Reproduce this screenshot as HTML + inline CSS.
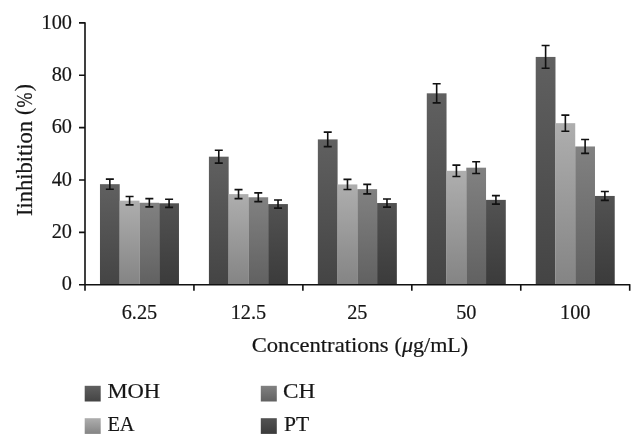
<!DOCTYPE html>
<html><head><meta charset="utf-8"><title>chart</title>
<style>html,body{margin:0;padding:0;background:#fff}svg{display:block;filter:grayscale(1)}text{font-family:"Liberation Serif",serif;fill:#161616;stroke:#161616;stroke-width:0.2px}</style></head><body>
<svg width="644" height="447" viewBox="0 0 644 447">
<defs>
<linearGradient id="g0" x1="0" y1="0" x2="0" y2="1"><stop offset="0" stop-color="#606060"/><stop offset="1" stop-color="#444444"/></linearGradient>
<linearGradient id="g1" x1="0" y1="0" x2="0" y2="1"><stop offset="0" stop-color="#aeaeae"/><stop offset="1" stop-color="#848484"/></linearGradient>
<linearGradient id="g2" x1="0" y1="0" x2="0" y2="1"><stop offset="0" stop-color="#818181"/><stop offset="1" stop-color="#616161"/></linearGradient>
<linearGradient id="g3" x1="0" y1="0" x2="0" y2="1"><stop offset="0" stop-color="#525252"/><stop offset="1" stop-color="#3b3b3b"/></linearGradient>
</defs>
<rect width="644" height="447" fill="#fff"/>
<rect x="99.97" y="184.17" width="19.75" height="100.53" fill="url(#g0)"/>
<rect x="119.72" y="200.66" width="19.75" height="84.04" fill="url(#g1)"/>
<rect x="139.47" y="202.76" width="19.75" height="81.94" fill="url(#g2)"/>
<rect x="159.22" y="203.28" width="19.75" height="81.42" fill="url(#g3)"/>
<rect x="208.91" y="156.68" width="19.75" height="128.02" fill="url(#g0)"/>
<rect x="228.66" y="194.12" width="19.75" height="90.58" fill="url(#g1)"/>
<rect x="248.41" y="197.26" width="19.75" height="87.44" fill="url(#g2)"/>
<rect x="268.16" y="204.07" width="19.75" height="80.63" fill="url(#g3)"/>
<rect x="317.85" y="139.40" width="19.75" height="145.30" fill="url(#g0)"/>
<rect x="337.60" y="184.43" width="19.75" height="100.27" fill="url(#g1)"/>
<rect x="357.35" y="189.14" width="19.75" height="95.56" fill="url(#g2)"/>
<rect x="377.10" y="203.02" width="19.75" height="81.68" fill="url(#g3)"/>
<rect x="426.79" y="93.32" width="19.75" height="191.38" fill="url(#g0)"/>
<rect x="446.54" y="170.82" width="19.75" height="113.88" fill="url(#g1)"/>
<rect x="466.29" y="167.68" width="19.75" height="117.02" fill="url(#g2)"/>
<rect x="486.04" y="199.88" width="19.75" height="84.82" fill="url(#g3)"/>
<rect x="535.73" y="56.93" width="19.75" height="227.77" fill="url(#g0)"/>
<rect x="555.48" y="123.17" width="19.75" height="161.53" fill="url(#g1)"/>
<rect x="575.23" y="146.47" width="19.75" height="138.23" fill="url(#g2)"/>
<rect x="594.98" y="195.95" width="19.75" height="88.75" fill="url(#g3)"/>
<path d="M109.84 179.14V189.20M105.84 179.14h8M105.84 189.20h8M129.59 196.46V204.86M125.59 196.46h8M125.59 204.86h8M149.34 198.66V206.85M145.34 198.66h8M145.34 206.85h8M169.09 199.21V207.35M165.09 199.21h8M165.09 207.35h8M218.78 150.28V163.08M214.78 150.28h8M214.78 163.08h8M238.53 189.59V198.65M234.53 189.59h8M234.53 198.65h8M258.28 192.89V201.63M254.28 192.89h8M254.28 201.63h8M278.03 200.03V208.10M274.03 200.03h8M274.03 208.10h8M327.73 132.14V146.67M323.73 132.14h8M323.73 146.67h8M347.48 179.42V189.44M343.48 179.42h8M343.48 189.44h8M367.23 184.37V193.92M363.23 184.37h8M363.23 193.92h8M386.98 198.93V207.10M382.98 198.93h8M382.98 207.10h8M436.67 83.76V102.89M432.67 83.76h8M432.67 102.89h8M456.42 165.12V176.51M452.42 165.12h8M452.42 176.51h8M476.17 161.82V173.53M472.17 161.82h8M472.17 173.53h8M495.92 195.64V204.12M491.92 195.64h8M491.92 204.12h8M545.61 45.55V68.32M541.61 45.55h8M541.61 68.32h8M565.36 115.09V131.25M561.36 115.09h8M561.36 131.25h8M585.11 139.56V153.38M581.11 139.56h8M581.11 153.38h8M604.86 191.51V200.39M600.86 191.51h8M600.86 200.39h8" stroke="#111" stroke-width="1.6" fill="none"/>
<path d="M85.0 22.20V290.70M79.0 284.7H630.4000000000001M79.0 284.70H85.0M79.0 232.34H85.0M79.0 179.98H85.0M79.0 127.62H85.0M79.0 75.26H85.0M79.0 22.90H85.0M193.94 284.7V290.70M302.88 284.7V290.70M411.82 284.7V290.70M520.76 284.7V290.70M629.70 284.7V290.70" stroke="#111" stroke-width="1.6" fill="none"/>
<text x="72" y="290.30" font-size="20.3" text-anchor="end">0</text>
<text x="72" y="237.94" font-size="20.3" text-anchor="end">20</text>
<text x="72" y="185.58" font-size="20.3" text-anchor="end">40</text>
<text x="72" y="133.22" font-size="20.3" text-anchor="end">60</text>
<text x="72" y="80.86" font-size="20.3" text-anchor="end">80</text>
<text x="72" y="28.50" font-size="20.3" text-anchor="end">100</text>
<text x="139.47" y="319.4" font-size="20.3" text-anchor="middle">6.25</text>
<text x="248.41" y="319.4" font-size="20.3" text-anchor="middle">12.5</text>
<text x="357.35" y="319.4" font-size="20.3" text-anchor="middle">25</text>
<text x="466.29" y="319.4" font-size="20.3" text-anchor="middle">50</text>
<text x="575.23" y="319.4" font-size="20.3" text-anchor="middle">100</text>
<text x="251.7" y="352.3" font-size="21.5" textLength="137.0" lengthAdjust="spacingAndGlyphs">Concentrations</text>
<text x="394.6" y="352.3" font-size="21.5" textLength="73.6" lengthAdjust="spacingAndGlyphs">(<tspan font-style="italic">μ</tspan>g/mL)</text>
<text transform="translate(32.3 215.9) rotate(-90) scale(1 1.06)" font-size="21.5" textLength="95" lengthAdjust="spacingAndGlyphs">Iinhibition</text>
<text transform="translate(31.0 115.1) rotate(-90) scale(1 1.04)" font-size="21.5">(</text>
<text transform="translate(32.3 107.4) rotate(-90) scale(1 1.04)" font-size="21.5" textLength="15.0" lengthAdjust="spacingAndGlyphs">%</text>
<text transform="translate(31.0 91.2) rotate(-90) scale(1 1.04)" font-size="21.5">)</text>
<rect x="84.7" y="385.8" width="16" height="15.7" fill="url(#g0)"/>
<text x="107.4" y="398.4" font-size="21.8" textLength="52.8" lengthAdjust="spacingAndGlyphs">MOH</text>
<rect x="84.7" y="418.2" width="16" height="15.7" fill="url(#g1)"/>
<text x="107.4" y="430.8" font-size="21.8" textLength="27.2" lengthAdjust="spacingAndGlyphs">EA</text>
<rect x="260.8" y="385.8" width="16" height="15.7" fill="url(#g2)"/>
<text x="283.1" y="398.4" font-size="21.8" textLength="32.2" lengthAdjust="spacingAndGlyphs">CH</text>
<rect x="260.8" y="418.2" width="16" height="15.7" fill="url(#g3)"/>
<text x="283.9" y="430.8" font-size="21.8" textLength="25.2" lengthAdjust="spacingAndGlyphs">PT</text>
</svg></body></html>
